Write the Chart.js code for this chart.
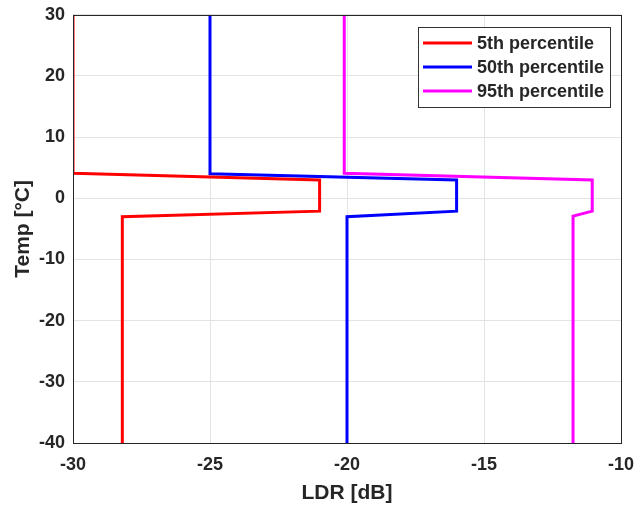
<!DOCTYPE html>
<html>
<head>
<meta charset="utf-8">
<script src="https://cdn.jsdelivr.net/npm/chart.js@4"></script>
<style>
  html, body { margin: 0; padding: 0; background: #fff; overflow: hidden; }
  #wrap { width: 660px; height: 510px; margin-top: -4px; }
</style>
</head>
<body>
<div id="wrap"><canvas id="chart"></canvas></div>
<script>
// profile data: LDR [dB] against Temp [°C]
const seriesNames = ['5th percentile', '50th percentile', '95th percentile'];
const p5Ldr = [-30, -30, -21, -21, -28.2, -28.2];
const p5Temp = [30, 4.1, 3, -2.1, -3, -40];
const p50Ldr = [-25, -25, -16, -16, -20, -20];
const p50Temp = [30, 4.0, 3, -2.1, -3, -40];
const p95Ldr = [-20.1, -20.1, -11.05, -11.05, -11.75, -11.75];
const p95Temp = [30, 4.1, 3, -2.1, -2.9, -40];
const colours = ['#ff0000', '#0000ff', '#ff00ff'];

function pts(xs, ys) {
  return xs.map((v, i) => ({x: v, y: ys[i]}));
}

const font = 'Liberation Sans, Arial, sans-serif';

// legend inside the axes with a frame, like the original (canvas is shifted up 4px)
const boxLegend = {
  id: 'boxLegend',
  afterDraw(chart) {
    const ctx = chart.ctx;
    const x0 = 418, y0 = 31, w = 192, h = 80;
    ctx.save();
    ctx.fillStyle = '#fff';
    ctx.fillRect(x0, y0, w, h);
    ctx.strokeStyle = '#333';
    ctx.lineWidth = 1;
    ctx.strokeRect(x0 + 0.5, y0 + 0.5, w, h);
    ctx.font = 'bold 18px ' + font;
    ctx.textBaseline = 'middle';
    chart.data.datasets.forEach((ds, i) => {
      const y = 47 + i * 24;
      ctx.strokeStyle = ds.borderColor;
      ctx.lineWidth = 3;
      ctx.beginPath();
      ctx.moveTo(423, y);
      ctx.lineTo(472, y);
      ctx.stroke();
      ctx.fillStyle = '#262626';
      ctx.fillText(ds.label, 477, y + 1);
    });
    ctx.restore();
  }
};

// frame round the plot area
const frame = {
  id: 'frame',
  afterDatasetsDraw(chart) {
    const a = chart.chartArea, ctx = chart.ctx;
    ctx.save();
    ctx.strokeStyle = '#262626';
    ctx.lineWidth = 1;
    ctx.strokeRect(Math.round(a.left) + 0.5, Math.round(a.top) + 0.5,
      Math.round(a.right - a.left), Math.round(a.bottom - a.top));
    ctx.restore();
  }
};

new Chart(document.getElementById('chart'), {
  type: 'scatter',
  data: {
    datasets: [
      {label: seriesNames[0], data: pts(p5Ldr, p5Temp)},
      {label: seriesNames[1], data: pts(p50Ldr, p50Temp)},
      {label: seriesNames[2], data: pts(p95Ldr, p95Temp)}
    ].map((d, i) => Object.assign(d, {
      showLine: true,
      borderColor: colours[i],
      backgroundColor: colours[i],
      borderWidth: 3,
      pointRadius: 0,
      tension: 0
    }))
  },
  options: {
    responsive: true,
    maintainAspectRatio: false,
    animation: false,
    layout: {autoPadding: false, padding: {top: 15, right: 39, left: 0, bottom: 0}},
    plugins: {
      legend: {display: false},
      tooltip: {enabled: false}
    },
    scales: {
      x: {
        type: 'linear',
        min: -30, max: -10,
        ticks: {stepSize: 5, color: '#262626', font: {family: font, size: 18, weight: 'bold'}, padding: 11, maxRotation: 0},
        grid: {color: '#e3e3e3', drawTicks: false},
        border: {display: false},
        title: {display: true, text: 'LDR [dB]', color: '#262626', font: {family: font, size: 21, weight: 'bold'}, padding: {top: 0, bottom: 0}},
        afterFit: s => { s.height = 63; }
      },
      y: {
        type: 'linear',
        min: -40, max: 30,
        ticks: {stepSize: 10, color: '#262626', font: {family: font, size: 18, weight: 'bold'}, padding: 8},
        grid: {color: '#e3e3e3', drawTicks: false},
        border: {display: false},
        title: {display: true, text: 'Temp [°C]', color: '#262626', font: {family: font, size: 21, weight: 'bold'}, padding: {top: 11, bottom: 0}},
        afterFit: s => { s.width = 73; }
      }
    }
  },
  plugins: [frame, boxLegend]
});
</script>
</body>
</html>
